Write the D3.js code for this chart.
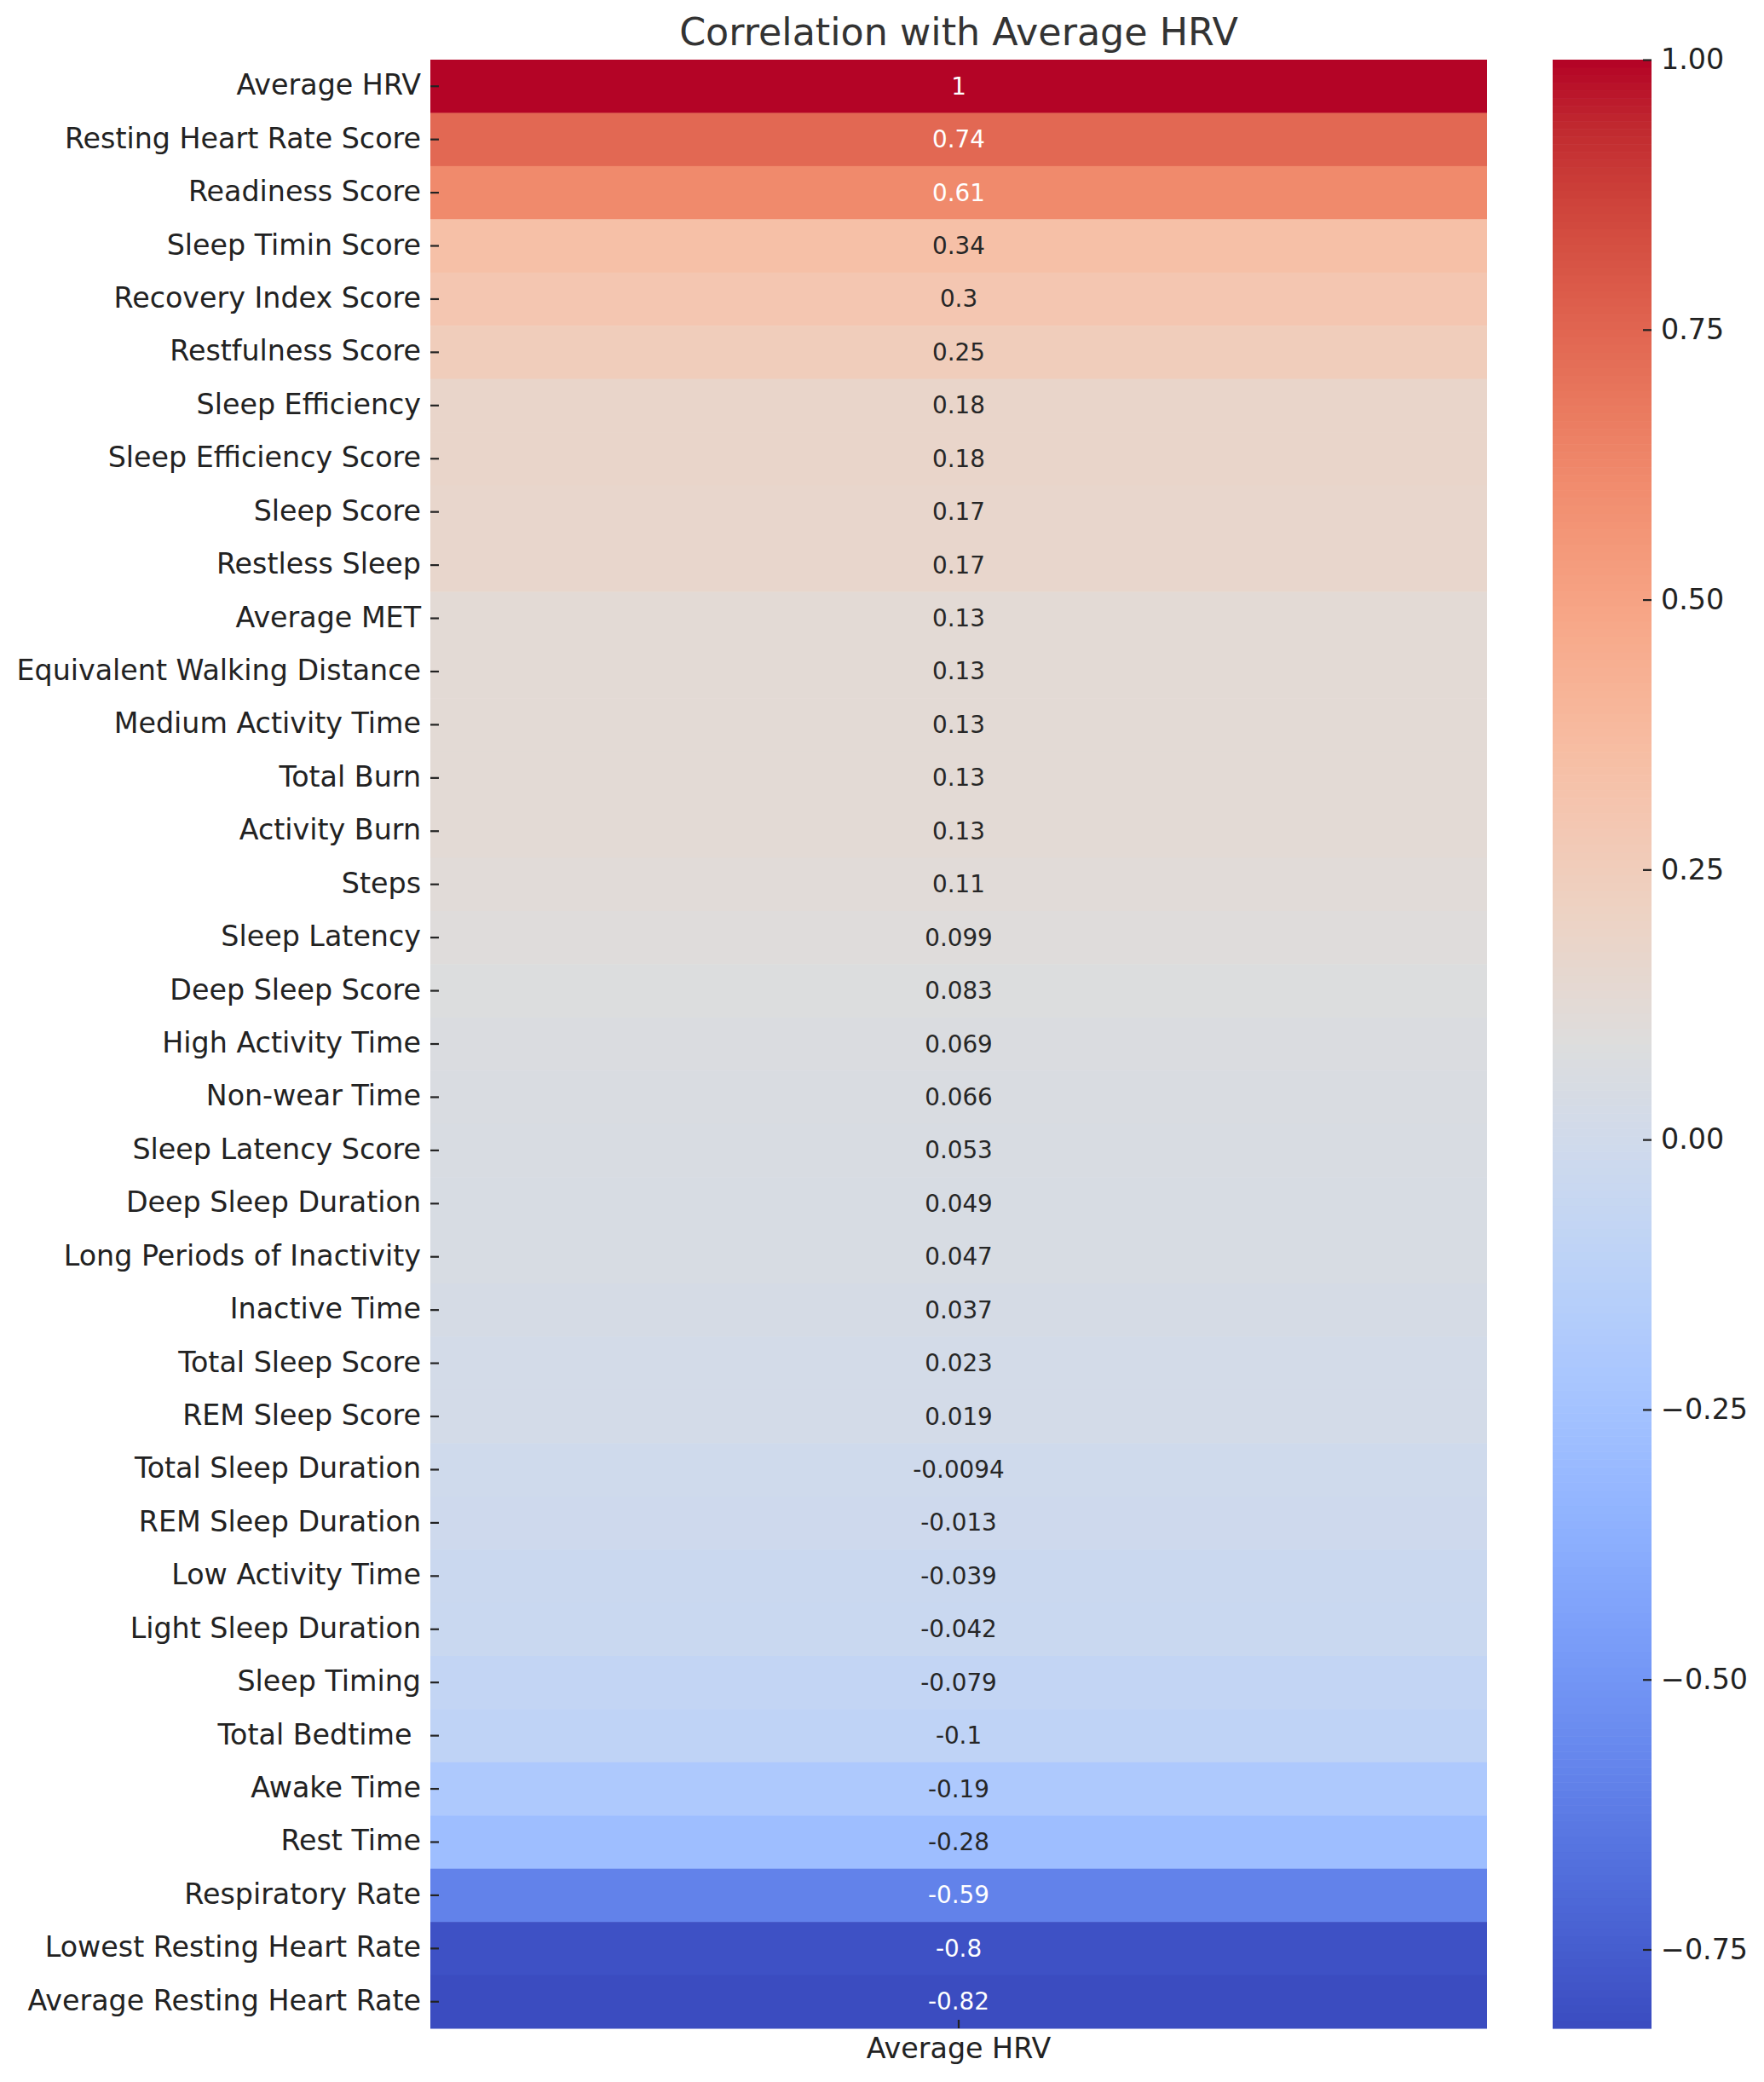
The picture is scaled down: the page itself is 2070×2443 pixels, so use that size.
<!DOCTYPE html>
<html>
<head>
<meta charset="utf-8">
<script src="https://cdn.jsdelivr.net/npm/d3@7"></script>
<style>
  html, body { margin: 0; padding: 0; background: #ffffff; }
  svg { display: block; font-family: "DejaVu Sans", sans-serif; }
</style>
</head>
<body>
<svg id="chart" width="2070" height="2443"></svg>
<script>
// ---------- data ----------
const categories = [
  "Average HRV", "Resting Heart Rate Score", "Readiness Score", "Sleep Timin Score",
  "Recovery Index Score", "Restfulness Score", "Sleep Efficiency", "Sleep Efficiency Score",
  "Sleep Score", "Restless Sleep", "Average MET", "Equivalent Walking Distance",
  "Medium Activity Time", "Total Burn", "Activity Burn", "Steps", "Sleep Latency",
  "Deep Sleep Score", "High Activity Time", "Non-wear Time", "Sleep Latency Score",
  "Deep Sleep Duration", "Long Periods of Inactivity", "Inactive Time", "Total Sleep Score",
  "REM Sleep Score", "Total Sleep Duration", "REM Sleep Duration", "Low Activity Time",
  "Light Sleep Duration", "Sleep Timing", "Total Bedtime ", "Awake Time", "Rest Time",
  "Respiratory Rate", "Lowest Resting Heart Rate", "Average Resting Heart Rate"
];
const correlations = [
  1, 0.74, 0.61, 0.34, 0.3, 0.25, 0.18, 0.18, 0.17, 0.17, 0.13, 0.13, 0.13, 0.13, 0.13,
  0.11, 0.099, 0.083, 0.069, 0.066, 0.053, 0.049, 0.047, 0.037, 0.023, 0.019,
  -0.0094, -0.013, -0.039, -0.042, -0.079, -0.1, -0.19, -0.28, -0.59, -0.8, -0.823
];
const columnLabels = ["Average HRV"];
const colorbarTicks = [-0.75, -0.5, -0.25, 0, 0.25, 0.5, 0.75, 1.0];
const titleText = "Correlation with Average HRV";

// matplotlib "coolwarm" reference samples (Moreland diverging map)
const coolwarmStops = [
  [59,76,192],[68,90,204],[77,104,215],[87,117,225],[98,130,234],[108,142,241],
  [119,154,247],[130,165,251],[141,176,254],[152,185,255],[163,194,255],[174,201,253],
  [184,208,249],[194,213,244],[204,217,238],[213,219,230],[221,221,221],[229,216,209],
  [236,211,197],[241,204,185],[245,196,173],[247,187,160],[247,177,148],[247,166,135],
  [244,154,123],[241,141,111],[236,127,99],[229,112,88],[222,96,77],[213,80,66],
  [203,62,56],[192,40,47],[180,4,38]
];

// ---------- layout ----------
const heat = { left: 505, right: 1745, top: 70, bottom: 2380 };
const cbar = { left: 1822, right: 1938 };

const svg = d3.select("#chart");

const vmin = d3.min(correlations), vmax = d3.max(correlations);
const cmap = d3.scaleLinear()
  .domain(coolwarmStops.map((_, i) => i / (coolwarmStops.length - 1)))
  .range(coolwarmStops.map(c => d3.rgb(c[0], c[1], c[2])))
  .interpolate(d3.interpolateRgb);
const norm = d3.scaleLinear().domain([vmin, vmax]).range([0, 1]).clamp(true);
// quantize to 256 levels like matplotlib
const color = v => cmap(Math.min(255, Math.floor(norm(v) * 256)) / 255);

const y = d3.scaleBand().domain(categories).range([heat.top, heat.bottom]).padding(0);
const x = d3.scaleBand().domain(columnLabels).range([heat.left, heat.right]).padding(0);

// cells
const rows = categories.map((c, i) => ({ name: c, value: correlations[i] }));
svg.append("g").selectAll("rect").data(rows).join("rect")
  .attr("x", x(columnLabels[0]))
  .attr("y", d => y(d.name))
  .attr("width", x.bandwidth())
  .attr("height", y.bandwidth() + 0.5)
  .attr("fill", d => color(d.value));

// annotations
function relLum(c) {
  const ch = [c.r, c.g, c.b].map(v => {
    v = v / 255;
    return v <= 0.03928 ? v / 12.92 : Math.pow((v + 0.055) / 1.055, 2.4);
  });
  return 0.2126 * ch[0] + 0.7152 * ch[1] + 0.0722 * ch[2];
}
const locale = d3.formatLocale({ decimal: ".", thousands: ",", grouping: [3], currency: ["", ""], minus: "-" });
const fmt = locale.format(".2~g");
svg.append("g").selectAll("text").data(rows).join("text")
  .attr("x", x(columnLabels[0]) + x.bandwidth() / 2)
  .attr("y", d => y(d.name) + y.bandwidth() / 2)
  .attr("text-anchor", "middle")
  .attr("dominant-baseline", "central")
  .attr("font-size", "27.8px")
  .attr("fill", d => relLum(d3.rgb(color(d.value))) > 0.408 ? "#262626" : "#ffffff")
  .text(d => fmt(d.value));

// y axis
const yAxis = svg.append("g")
  .attr("transform", `translate(${heat.left},0)`)
  .call(d3.axisLeft(y).tickSize(-10).tickPadding(11));
yAxis.select(".domain").remove();
yAxis.selectAll(".tick line").attr("stroke", "#222").attr("stroke-width", 2.2);
yAxis.selectAll(".tick text").attr("font-size", "33.3px").attr("fill", "#222")
  .attr("font-family", "DejaVu Sans").attr("dy", "0.3em").style("white-space", "pre");

// x axis
const xAxis = svg.append("g")
  .attr("transform", `translate(0,${heat.bottom})`)
  .call(d3.axisBottom(x).tickSize(-10).tickPadding(11));
xAxis.select(".domain").remove();
xAxis.selectAll(".tick line").attr("stroke", "#222").attr("stroke-width", 2.2);
xAxis.selectAll(".tick text").attr("font-size", "33.3px").attr("fill", "#222")
  .attr("font-family", "DejaVu Sans");

// colorbar
const cy = d3.scaleLinear().domain([vmin, vmax]).range([heat.bottom, heat.top]);
const nBands = 256;
const bands = d3.range(nBands);
svg.append("g").selectAll("rect").data(bands).join("rect")
  .attr("x", cbar.left)
  .attr("width", cbar.right - cbar.left)
  .attr("y", i => cy(vmin + (i + 1) * (vmax - vmin) / nBands))
  .attr("height", i => cy(vmin + i * (vmax - vmin) / nBands) - cy(vmin + (i + 1) * (vmax - vmin) / nBands) + 0.6)
  .attr("fill", i => cmap(i / (nBands - 1)));

const cAxis = svg.append("g")
  .attr("transform", `translate(${cbar.right},0)`)
  .call(d3.axisRight(cy).tickValues(colorbarTicks).tickFormat(d3.format(".2f")).tickSize(-10).tickPadding(11));
cAxis.select(".domain").remove();
cAxis.selectAll(".tick line").attr("stroke", "#222").attr("stroke-width", 2.2);
cAxis.selectAll(".tick text").attr("font-size", "33.3px").attr("fill", "#222")
  .attr("font-family", "DejaVu Sans");

// title
svg.append("text")
  .attr("x", (heat.left + heat.right) / 2)
  .attr("y", 53)
  .attr("text-anchor", "middle")
  .attr("font-size", "44.4px")
  .attr("fill", "#333333")
  .text(titleText);
</script>
</body>
</html>
